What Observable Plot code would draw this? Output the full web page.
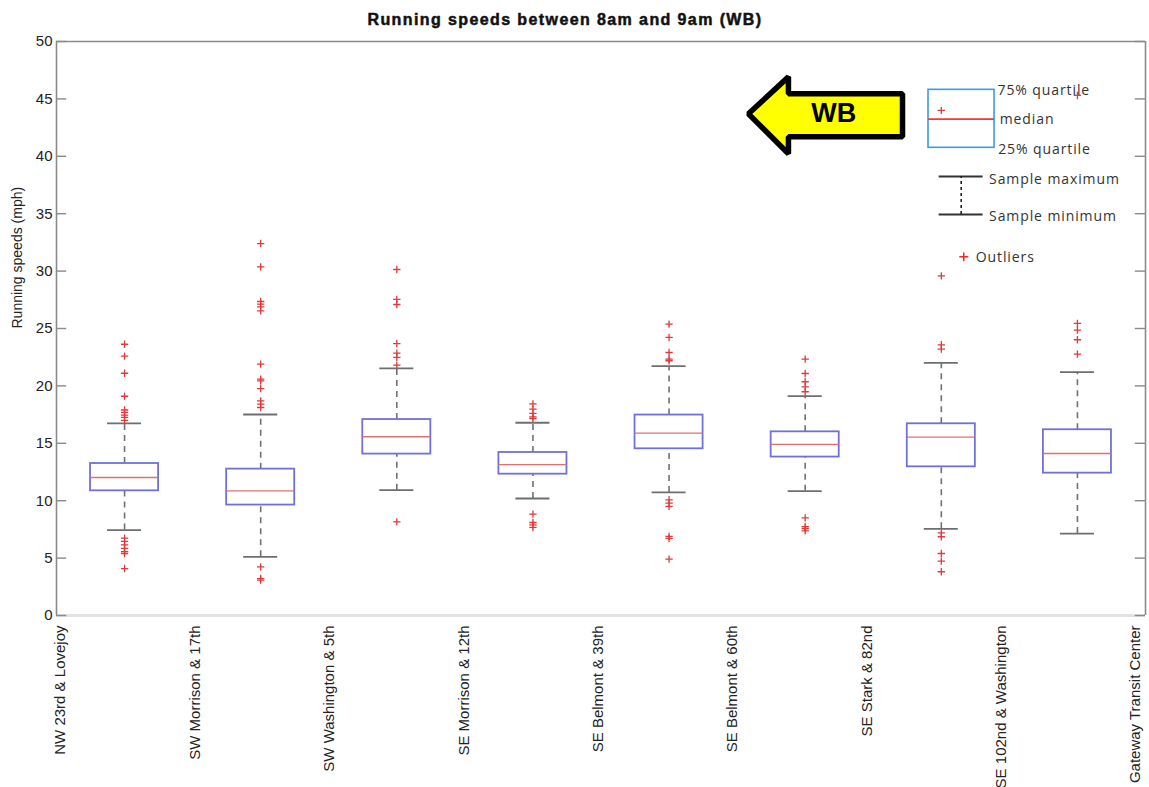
<!DOCTYPE html>
<html>
<head>
<meta charset="utf-8">
<script src="https://cdn.jsdelivr.net/npm/d3@7"></script>
<script src="https://cdn.jsdelivr.net/npm/@observablehq/plot@0.6"></script>
<style>
  body { margin: 0; background: #fff; }
</style>
</head>
<body>
<div id="chart"></div>
<script>
// Stops along the line, westbound; each box is the segment between two stops.
const stops = [
  "NW 23rd & Lovejoy", "SW Morrison & 17th", "SW Washington & 5th", "SE Morrison & 12th",
  "SE Belmont & 39th", "SE Belmont & 60th", "SE Stark & 82nd", "SE 102nd & Washington",
  "Gateway Transit Center"
];

// Box statistics per segment (mph)
const whiskerLow  = [7.44, 5.11, 10.92, 10.19, 10.72, 10.83, 7.55, 7.14];
const q1          = [10.86, 9.62, 14.06, 12.31, 14.52, 13.80, 12.95, 12.40];
const median      = [12.02, 10.86, 15.57, 13.15, 15.89, 14.90, 15.54, 14.11];
const q3          = [13.24, 12.75, 17.07, 14.20, 17.46, 16.00, 16.70, 16.18];
const whiskerHigh = [16.73, 17.51, 21.52, 16.79, 21.72, 19.11, 22.01, 21.20];

// Outlying observations per segment (mph)
const outliers = [
  [23.63, 22.6, 21.1, 19.1, 17.9, 17.7, 17.45, 17.25, 17.0, 6.74, 6.45, 6.16, 5.84, 5.57, 5.4, 4.09],
  [32.4, 30.37, 27.35, 27.12, 26.89, 26.54, 21.9, 20.59, 20.44, 19.77, 18.7, 18.41, 18.12, 4.24, 3.22, 3.08],
  [30.14, 27.53, 27.09, 23.69, 22.86, 22.48, 21.81, 8.16],
  [18.44, 17.98, 17.6, 17.31, 17.16, 8.83, 8.1, 7.9, 7.67],
  [25.38, 24.22, 22.91, 22.33, 22.19, 10.08, 9.79, 9.5, 6.89, 6.71, 4.91],
  [22.33, 21.08, 20.36, 19.92, 19.49, 8.51, 7.75, 7.58, 7.38],
  [44.0, 29.59, 23.58, 23.2, 7.2, 6.86, 5.4, 4.74, 3.81],
  [45.3, 25.44, 24.86, 24.02, 22.77]
];

const yTicks = [0, 5, 10, 15, 20, 25, 30, 35, 40, 45, 50];
const title = "Running speeds between 8am and 9am (WB)";
const yLabel = "Running speeds (mph)";

// Segment table: box i sits between stop i and stop i+1
const segs = q1.map((_, i) => ({
  pos: i + 1, lo: whiskerLow[i], q1: q1[i], med: median[i], q3: q3[i], hi: whiskerHigh[i]
}));
const outPts = outliers.flatMap((vals, i) => vals.map(v => ({pos: i + 1, v})));

// Stop names are set slightly inside the two ends of the axis
const labelInset = 0.066, labelStep = 0.9871;

// Direction arrow and key, placed in plot units (segment position, mph)
const arrow = [
  {x: 5.583, y: 43.70}, {x: 5.877, y: 46.92}, {x: 5.877, y: 45.44}, {x: 6.715, y: 45.44},
  {x: 6.715, y: 41.70}, {x: 5.877, y: 41.70}, {x: 5.877, y: 40.22}
];
const keyText = [
  {x: 7.413, y: 45.72, text: "75% quartile"},
  {x: 7.429, y: 43.18, text: "median"},
  {x: 7.418, y: 40.63, text: "25% quartile"},
  {x: 7.351, y: 37.95, text: "Sample maximum"},
  {x: 7.351, y: 34.76, text: "Sample minimum"},
  {x: 7.253, y: 31.18, text: "Outliers"}
];

const boxHalf = 0.25, capHalf = 0.125, tickLen = 0.075;

const chart = Plot.plot({
  width: 1149,
  height: 787,
  marginLeft: 56,
  marginRight: 4,
  marginTop: 41,
  marginBottom: 172,
  x: {domain: [0.5, 8.5], axis: null},
  y: {domain: [0, 50]},
  style: {fontFamily: "'Liberation Sans', Arial, sans-serif", fontSize: "15px", color: "#222", background: "#fff"},
  marks: [
    // frame
    Plot.ruleY([0], {stroke: "#e2e2e2", strokeWidth: 3}),
    Plot.ruleX([0.5, 8.5], {y1: 0, y2: 50, stroke: "#8a8a8a", strokeWidth: 1.6}),
    Plot.ruleY([50], {stroke: "#8a8a8a", strokeWidth: 1.6}),
    // inward ticks on both sides
    Plot.ruleY(yTicks, {x1: 0.5, x2: 0.5 + tickLen, stroke: "#8a8a8a", strokeWidth: 1.4}),
    Plot.ruleY(yTicks, {x1: 8.5 - tickLen, x2: 8.5, stroke: "#8a8a8a", strokeWidth: 1.4}),
    Plot.axisY({ticks: yTicks, tickSize: 0, tickPadding: 4, label: null, fontSize: 15}),
    // whiskers
    Plot.ruleX(segs, {x: "pos", y1: "q3", y2: "hi", stroke: "#707070", strokeWidth: 1.6, strokeDasharray: "6,5"}),
    Plot.ruleX(segs, {x: "pos", y1: "lo", y2: "q1", stroke: "#707070", strokeWidth: 1.6, strokeDasharray: "6,5"}),
    Plot.ruleY(segs, {y: "hi", x1: d => d.pos - capHalf, x2: d => d.pos + capHalf, stroke: "#6e6e6e", strokeWidth: 1.8}),
    Plot.ruleY(segs, {y: "lo", x1: d => d.pos - capHalf, x2: d => d.pos + capHalf, stroke: "#6e6e6e", strokeWidth: 1.8}),
    // boxes and medians
    Plot.rect(segs, {x1: d => d.pos - boxHalf, x2: d => d.pos + boxHalf, y1: "q1", y2: "q3", fill: "#fff", stroke: "#7070d8", strokeWidth: 1.8}),
    Plot.ruleY(segs, {y: "med", x1: d => d.pos - boxHalf, x2: d => d.pos + boxHalf, stroke: "#e07070", strokeWidth: 1.3}),
    // outliers
    Plot.dot(outPts, {x: "pos", y: "v", symbol: "plus", r: 2.5, stroke: "#e03a3a", strokeWidth: 1.3}),
    // stop names
    Plot.text(stops, {x: (d, i) => 0.5 + labelInset + i * labelStep, frameAnchor: "bottom", text: d => d, rotate: -90, textAnchor: "end", dy: 10, fontSize: 15, fill: "#222"}),
    // axis title and chart title
    Plot.text([yLabel], {frameAnchor: "left", text: d => d, rotate: -90, dx: -39, fontSize: 14, fill: "#222"}),
    Plot.text([title], {frameAnchor: "top", lineAnchor: "middle", text: d => d, dy: -22, dx: -36, fontSize: 16, fontWeight: "bold", fill: "#111", stroke: "#111", strokeWidth: 0.5}),
    // westbound arrow
    Plot.line(arrow, {x: "x", y: "y", curve: "linear-closed", fill: "#ffff00", stroke: "#000", strokeWidth: 5.5, strokeLinejoin: "miter"}),
    Plot.text(["WB"], {x: 6.21, y: 43.7, text: d => d, fontSize: 27, fontWeight: "bold", fill: "#000"}),
    // key
    Plot.rect([0], {x1: 6.906, x2: 7.391, y1: 40.74, y2: 45.79, fill: "none", stroke: "#3e9be2", strokeWidth: 1.6}),
    Plot.ruleY([43.24], {x1: 6.906, x2: 7.391, stroke: "#ff3434", strokeWidth: 1.8}),
    Plot.ruleY([38.24, 34.93], {x1: 6.984, x2: 7.307, stroke: "#333", strokeWidth: 2}),
    Plot.ruleX([7.146], {y1: 34.93, y2: 38.24, stroke: "#222", strokeWidth: 1.6, strokeDasharray: "3,3"}),
    Plot.dot([0], {x: 7.165, y: 31.24, symbol: "plus", r: 3, stroke: "#ff2020", strokeWidth: 1.5}),
    Plot.text(keyText, {x: "x", y: "y", text: "text", textAnchor: "start", fontFamily: "'Open Sans', sans-serif", fontSize: 14, fill: "#333"})
  ]
});

// widen the title and key lettering
const keyLabels = new Set(keyText.map(d => d.text));
d3.select(chart).selectAll("text").each(function () {
  const t = this.textContent;
  if (t === title) d3.select(this).attr("letter-spacing", "1.4px");
  else if (keyLabels.has(t)) d3.select(this).attr("letter-spacing", "0.9px");
});

document.getElementById("chart").appendChild(chart);
</script>
</body>
</html>
